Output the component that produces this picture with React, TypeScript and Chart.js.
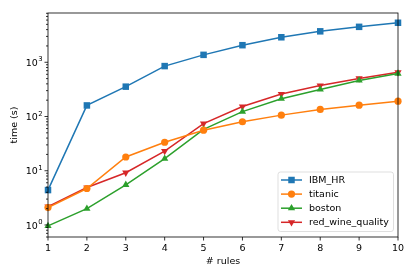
import React, { useEffect, useRef } from 'react';
import { Chart, registerables } from 'chart.js';

Chart.register(...registerables);

const rules = [1, 2, 3, 4, 5, 6, 7, 8, 9, 10];
const ibmHr = [4.4, 160, 355, 850, 1370, 2065, 2890, 3720, 4500, 5350];
const titanic = [2.09, 4.7, 17.9, 33.5, 56, 80, 106, 135, 162, 192];
const boston = [0.96, 2.0, 5.5, 16.7, 58, 123, 213, 315, 462, 620];
const redWine = [2.18, 4.9, 9.2, 23, 74, 153, 259, 373, 503, 655];
const seriesNames = ['IBM_HR', 'titanic', 'boston', 'red_wine_quality'];
const yMajorTicks = [1, 10, 100, 1000];
const yTickBase = '10';
const yTickExponents = ['0', '1', '2', '3'];
const xTitle = '# rules';
const yTitle = 'time (s)';

const colors = ['#1f77b4', '#ff7f0e', '#2ca02c', '#d62728'];
const styles = ['rect', 'circle', 'triangle', 'triangle'];
const rotations = [0, 0, 0, 180];
const radii = [4.6, 3.6, 4.2, 4.2];
const FONT = 'DejaVu Sans';

function drawMarker(ctx: CanvasRenderingContext2D, style: string, rot: number, r: number, x: number, y: number) {
  ctx.beginPath();
  if (style === 'rect') {
    const s = Math.SQRT1_2 * r;
    ctx.rect(x - s, y - s, 2 * s, 2 * s);
  } else if (style === 'circle') {
    ctx.arc(x, y, r, 0, Math.PI * 2);
  } else {
    let rad = (rot * Math.PI) / 180;
    ctx.moveTo(x + Math.sin(rad) * r, y - Math.cos(rad) * r);
    rad += (2 * Math.PI) / 3;
    ctx.lineTo(x + Math.sin(rad) * r, y - Math.cos(rad) * r);
    rad += (2 * Math.PI) / 3;
    ctx.lineTo(x + Math.sin(rad) * r, y - Math.cos(rad) * r);
    ctx.closePath();
  }
  ctx.fill();
}

const decorPlugin = {
  id: 'decor',
  afterDraw(chart: any) {
    const ctx: CanvasRenderingContext2D = chart.ctx;
    const { left, right, top, bottom } = chart.chartArea;
    const xs = chart.scales.x;
    const ys = chart.scales.y;
    ctx.save();
    ctx.strokeStyle = '#000';
    ctx.lineWidth = 0.8;
    ctx.strokeRect(left, top, right - left, bottom - top);
    // x ticks
    ctx.beginPath();
    for (const v of rules) {
      const px = xs.getPixelForValue(v);
      ctx.moveTo(px, bottom);
      ctx.lineTo(px, bottom + 3.5);
    }
    // y ticks major/minor
    for (let k = -1; k <= 4; k++) {
      for (let m = 1; m <= 9; m++) {
        const v = m * Math.pow(10, k);
        if (v < ys.min || v > ys.max) continue;
        const py = ys.getPixelForValue(v);
        const len = m === 1 ? 3.5 : 2;
        ctx.moveTo(left, py);
        ctx.lineTo(left - len, py);
      }
    }
    ctx.stroke();

    // y tick labels: 10 with superscript exponent
    ctx.fillStyle = '#000';
    ctx.textBaseline = 'alphabetic';
    yMajorTicks.forEach((v, i) => {
      const py = ys.getPixelForValue(v);
      const rightEdge = left - 5.5;
      ctx.font = `6.8px "${FONT}"`;
      ctx.textAlign = 'right';
      const ew = ctx.measureText(yTickExponents[i]).width;
      ctx.fillText(yTickExponents[i], rightEdge, py - 0.8);
      ctx.font = `9.5px "${FONT}"`;
      ctx.fillText(yTickBase, rightEdge - ew - 0.4, py + 3.6);
    });

    // legend
    const bx = 278, by = 172, bw = 115.5, bh = 59.5, rr = 2.5;
    ctx.beginPath();
    ctx.moveTo(bx + rr, by);
    ctx.arcTo(bx + bw, by, bx + bw, by + bh, rr);
    ctx.arcTo(bx + bw, by + bh, bx, by + bh, rr);
    ctx.arcTo(bx, by + bh, bx, by, rr);
    ctx.arcTo(bx, by, bx + bw, by, rr);
    ctx.closePath();
    ctx.fillStyle = 'rgba(255,255,255,0.8)';
    ctx.fill();
    ctx.strokeStyle = 'rgba(204,204,204,0.8)';
    ctx.lineWidth = 0.8;
    ctx.stroke();
    ctx.font = `9.5px "${FONT}"`;
    ctx.textBaseline = 'middle';
    ctx.textAlign = 'left';
    seriesNames.forEach((name, i) => {
      const y = 180 + i * 14.1;
      ctx.strokeStyle = colors[i];
      ctx.fillStyle = colors[i];
      ctx.lineWidth = 1.5;
      ctx.beginPath();
      ctx.moveTo(281, y);
      ctx.lineTo(302, y);
      ctx.stroke();
      drawMarker(ctx, styles[i], rotations[i], radii[i], 291.5, y);
      ctx.fillStyle = '#000';
      ctx.fillText(name, 309, y + 0.5);
    });
    ctx.restore();
  },
};

export default function App() {
  const ref = useRef<HTMLCanvasElement>(null);
  useEffect(() => {
    if (!ref.current) return;
    const seriesData = [ibmHr, titanic, boston, redWine];
    const chart = new Chart(ref.current, {
      type: 'line',
      data: {
        labels: rules,
        datasets: seriesData.map((d, i) => ({
          label: seriesNames[i],
          data: d.map((v, j) => ({ x: rules[j], y: v })),
          borderColor: colors[i],
          backgroundColor: colors[i],
          borderWidth: 1.5,
          pointStyle: styles[i] as any,
          pointRotation: rotations[i],
          pointRadius: radii[i],
          pointBorderWidth: 0,
          pointBackgroundColor: colors[i],
          tension: 0,
          fill: false,
          clip: false as any,
        })),
      },
      options: {
        animation: false,
        responsive: false,
        maintainAspectRatio: false,
        devicePixelRatio: 1,
        layout: { padding: { top: 13, right: 17, left: 0, bottom: 0 } },
        plugins: { legend: { display: false }, tooltip: { enabled: false } },
        scales: {
          x: {
            type: 'linear',
            min: 1,
            max: 10,
            grid: { display: false, drawTicks: true, tickLength: 3.5 },
            border: { display: false },
            ticks: {
              stepSize: 1,
              padding: 2,
              color: '#000',
              font: { family: FONT, size: 9.5 },
              maxRotation: 0,
              autoSkip: false,
            },
            title: {
              display: true,
              text: xTitle,
              color: '#000',
              font: { family: FONT, size: 9.5 },
              padding: { top: 0, bottom: 9.3 },
            },
            afterFit: (s: any) => {
              s.height = 40;
            },
          },
          y: {
            type: 'logarithmic',
            min: 0.63,
            max: 8100,
            grid: { display: false, drawTicks: true, tickLength: 3.5 },
            border: { display: false },
            afterBuildTicks: (s: any) => {
              s.ticks = yMajorTicks.map((v) => ({ value: v }));
            },
            ticks: {
              display: false,
            },
            title: {
              display: true,
              text: yTitle,
              color: '#000',
              font: { family: FONT, size: 9.5 },
              padding: { top: 9.3, bottom: 0 },
            },
            afterFit: (s: any) => {
              s.width = 48;
            },
          },
        },
      },
      plugins: [decorPlugin],
    } as any);
    return () => chart.destroy();
  }, []);
  return (
    <div style={{ position: 'fixed', left: 0, top: 0, width: 415, height: 277, background: '#fff' }}>
      <canvas ref={ref} width={415} height={277} style={{ width: 415, height: 277 }} />
    </div>
  );
}
